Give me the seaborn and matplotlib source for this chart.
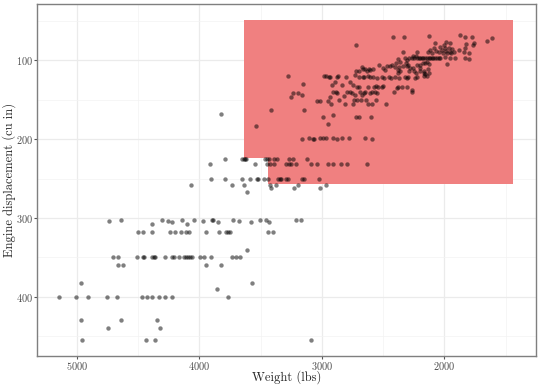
import matplotlib
matplotlib.use("Agg")
import numpy as np
import pandas as pd
import matplotlib.pyplot as plt
import seaborn as sns

# weight (lbs) and engine displacement (cu in), grouped by row
weight = [
    4957, 4432, 4358, 3088,
    4742, 4318,
    4962, 4638, 4347,
    5147, 5003, 4910, 4753, 4674, 4470, 4426, 4388, 4328, 4282, 4225, 3765,
    3855, 4962, 3567,
    4660, 4620, 3945, 3825,
    4704, 4660, 4508, 4460, 4448, 4385, 4372, 4359, 4277, 4222, 4208, 4168,
    4127, 4108, 4092, 4078, 4061, 3991, 3959, 3904, 3730, 3697, 3670,
    3613,
    4502, 4461, 4385, 4241, 4195, 4146, 4108, 4086, 3945, 3836, 3782, 3765, 3746, 3439, 3400,
    4736, 4641, 4383, 4301, 4257, 4220, 4143, 4102, 4043, 3967, 3893, 3885,
    3844, 3727, 3678, 3575, 3506, 3453, 3433, 3208, 3170,
    4067, 3733, 3637, 3610, 3425, 3414, 3371, 3224, 3196, 3017, 2965,
    3904, 3787, 3651, 3583, 3529, 3523, 3469, 3436, 3360, 3343, 3330, 3290, 3276, 3161, 3147, 3025,
    3915, 3542, 3447, 3425, 3387, 3292, 3270, 3249, 3210, 3090, 3041, 2947, 2911, 2845, 2792, 2633,
    3787, 3651, 3637, 3624, 3616, 3466, 3447, 3433, 3387, 3365, 3270, 3235, 3120,
    3159, 3102, 3074, 3063, 3014, 2992, 2965, 2906, 2878, 2837, 2775, 2647, 2587,
    3534, 3825, 3414, 3142, 2987, 2947, 2911, 2720, 2700, 2596,
    3040, 3013, 2950, 2930, 2925, 2857, 2821, 2808, 2745, 2739, 2710, 2680, 2672, 2636, 2625, 2587, 2555, 2473,
    3254, 3235, 3194, 3164, 2908, 2886, 2876, 2794, 2767, 2753, 2726, 2685, 2657, 2645, 2604, 2590, 2563, 2549, 2408, 2263,
    3153, 2919, 2892, 2835, 2770, 2748, 2712, 2694, 2620, 2576, 2557, 2540, 2508, 2498, 2386, 2375, 2345, 2304, 2266,
    3273, 2984, 2963, 2943, 2935, 2876, 2865, 2800, 2726, 2700, 2666, 2657, 2625, 2606, 2579,
    2549, 2511, 2494, 2454, 2435, 2402, 2372, 2318, 2304, 2294, 2237, 2223, 2168, 2141,
    2375, 2231, 2166, 2155, 2125,
    2718, 2694, 2672, 2661, 2645, 2633, 2617, 2606, 2582, 2498, 2484, 2380, 2364, 2286, 2253, 2250, 2201, 2163, 2136,
    2530, 2467, 2440, 2429, 2400, 2392, 2372, 2359, 2335, 2310, 2304, 2294, 2277, 2223, 2198, 2196, 2176, 2157, 2144, 2128, 1980,
    2380, 2318, 2307, 2290, 2263, 2258, 2245, 2223, 2209, 2196, 2184, 2174, 2155, 2139,
    2128, 2117, 2100, 2090, 2073, 2062, 2046, 2033, 1992, 1951, 1910, 1833, 1801,
    2339, 2233, 2223, 2130, 2114, 2103, 2086, 2065, 2046, 2033, 2019, 2011,
    1992, 1984, 1978, 1964, 1951, 1946, 1937, 1923, 1882, 1842, 1829, 1798,
    2720, 2076, 2005, 1984, 1956, 1825, 1766, 1760, 1651, 1613,
    2421, 2329, 2122, 1869, 1833, 1774,
]
displacement = [
    455, 455, 455, 455,
    440, 440,
    429, 429, 429,
    400, 400, 400, 400, 400, 400, 400, 400, 400, 400, 400, 400,
    390, 383, 383,
    360, 360, 360, 360,
    350, 350, 350, 350, 350, 350, 350, 350, 350, 350, 350, 350,
    350, 350, 350, 350, 350, 350, 350, 350, 350, 350, 350,
    340,
    318, 318, 318, 318, 318, 318, 318, 318, 318, 318, 318, 318, 318, 318, 318,
    304, 302, 307, 302, 304, 305, 302, 307, 302, 304, 302, 302,
    305, 302, 304, 305, 302, 302, 305, 302, 302,
    258, 258, 258, 267, 258, 262, 258, 262, 258, 262, 258,
    250, 250, 250, 250, 250, 250, 250, 250, 250, 250, 250, 250, 250, 250, 250, 250,
    231, 232, 232, 232, 232, 232, 232, 232, 232, 232, 232, 232, 232, 232, 232, 232,
    225, 225, 225, 225, 225, 225, 225, 225, 225, 225, 225, 225, 225,
    200, 198, 200, 200, 199, 199, 199, 198, 200, 199, 199, 199, 200,
    183, 168, 163, 163, 172, 181, 170, 172, 172, 172,
    151, 151, 151, 146, 156, 150, 145, 155, 155, 150, 150, 150, 144, 150, 155, 155, 150, 155,
    146, 141, 141, 144, 140, 140, 142, 140, 140, 142, 144, 140, 142, 140, 142, 140, 140, 142, 140, 140,
    130, 131, 128, 131, 128, 131, 134, 134, 134, 134, 132, 134, 134, 133, 135, 134, 134, 134, 138,
    120, 120, 120, 121, 121, 121, 120, 121, 119, 121, 121, 121, 120, 121, 121,
    122, 121, 122, 121, 122, 121, 122, 121, 122, 121, 122, 121, 120, 120,
    116, 116, 116, 118, 116,
    114, 114, 109, 111, 111, 113, 111, 112, 111, 110, 112, 112, 114, 113, 110, 114, 114, 114, 111,
    106, 107, 107, 106, 108, 103, 109, 102, 107, 103, 107, 106, 110, 106, 106, 110, 104, 103, 102, 105, 105,
    98, 97, 100, 97, 97, 95, 97, 97, 97, 97, 97, 97, 97, 97,
    97, 97, 97, 97, 97, 97, 97, 97, 96, 97, 97, 97, 98,
    90, 94, 89, 90, 87, 91, 85, 88, 90, 83, 87, 91,
    84, 88, 91, 84, 89, 91, 86, 89, 87, 90, 85, 91,
    80, 78, 80, 77, 78, 79, 81, 78, 76, 72,
    70, 70, 69, 68, 71, 71,
]

# highlighted region outline (weight, displacement)
region_weight = [3635, 1437, 1437, 3436, 3436, 3635]
region_disp = [49, 49, 257, 257, 224, 224]

df = pd.DataFrame({"weight": weight, "displacement": displacement})

sns.set_theme(style="white")
plt.rcParams["font.family"] = ["cmr10", "DejaVu Serif"]
plt.rcParams["mathtext.fontset"] = "cm"
plt.rcParams["axes.formatter.use_mathtext"] = True

fig = plt.figure(figsize=(5.4, 3.86), dpi=100)
ax = fig.add_axes([37 / 540, 30 / 386, 499 / 540, 352 / 386])

ax.fill(region_weight, region_disp, color="#F08080", lw=0, zorder=1)
sns.scatterplot(data=df, x="weight", y="displacement", color="black", alpha=0.5,
                s=10, linewidth=0, ax=ax, zorder=3)

ax.set_xlim(5325, 1252)
ax.set_ylim(475, 28.6)
ax.set_xticks([5000, 4000, 3000, 2000])
ax.set_xticks([4500, 3500, 2500, 1500], minor=True)
ax.set_yticks([100, 200, 300, 400])
ax.set_yticks([50, 150, 250, 350, 450], minor=True)

ax.set_axisbelow(True)
ax.grid(which="major", color="#EBEBEB", lw=0.9)
ax.grid(which="minor", color="#F3F3F3", lw=0.5)
ax.tick_params(which="major", direction="out", length=2, width=0.8, color="#555555",
               labelsize=7.4, labelcolor="#4D4D4D", pad=1, bottom=True, left=True)
ax.tick_params(which="minor", length=0)
for s in ax.spines.values():
    s.set_color("#7F7F7F")
    s.set_linewidth(1.0)

ax.set_xlabel("")
ax.set_ylabel("")
fig.text(286.5 / 540, 1 - 377 / 386, "Weight (lbs)", fontsize=9, ha="center", va="center")
fig.text(9 / 540, 1 - 180 / 386, "Engine displacement (cu in)", fontsize=9,
         ha="center", va="center", rotation=90)

plt.savefig("out.png", dpi=100)
plt.close()
